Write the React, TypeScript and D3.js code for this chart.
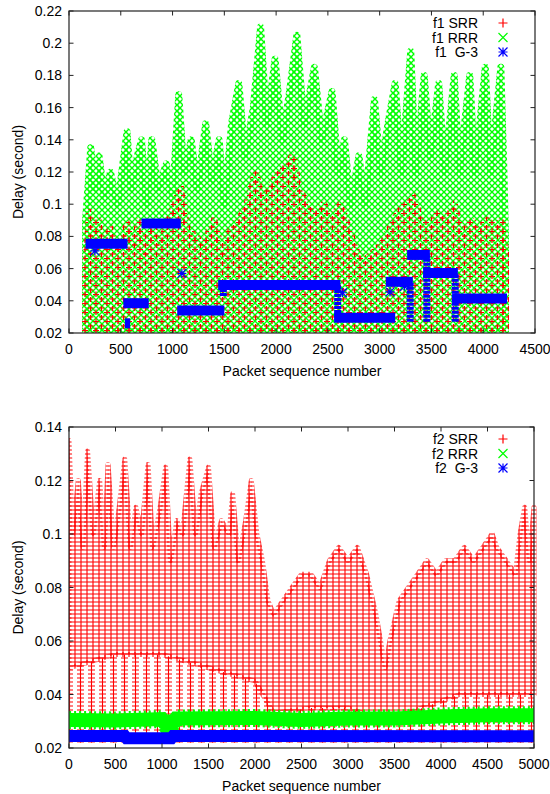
import React from 'react';
import * as d3 from 'd3';

// ---- f1 panel (top) ----
const f1XTicks = [0, 500, 1000, 1500, 2000, 2500, 3000, 3500, 4000, 4500];
const f1YTicks = [0.02, 0.04, 0.06, 0.08, 0.1, 0.12, 0.14, 0.16, 0.18, 0.2, 0.22];

// SRR: upper envelope of the red cloud
const f1SrrX = [160, 200, 240, 280, 330, 400, 470, 560, 620, 680, 740, 800, 880, 960, 1020, 1080, 1140, 1220, 1300, 1400, 1480, 1560, 1640, 1720, 1800, 1860, 1940, 2020, 2100, 2160, 2220, 2300, 2380, 2460, 2540, 2620, 2700, 2780, 2860, 2940, 3020, 3100, 3180, 3260, 3320, 3400, 3480, 3560, 3640, 3720, 3800, 3880, 3960, 4040, 4120, 4180, 4215];
const f1SrrTop = [0.06, 0.095, 0.08, 0.09, 0.075, 0.085, 0.07, 0.088, 0.075, 0.09, 0.07, 0.09, 0.075, 0.09, 0.1, 0.11, 0.085, 0.08, 0.075, 0.09, 0.07, 0.085, 0.09, 0.1, 0.12, 0.105, 0.11, 0.12, 0.125, 0.13, 0.11, 0.1, 0.095, 0.1, 0.09, 0.1, 0.085, 0.07, 0.065, 0.07, 0.075, 0.085, 0.095, 0.1, 0.105, 0.09, 0.085, 0.095, 0.09, 0.1, 0.08, 0.09, 0.085, 0.09, 0.085, 0.09, 0.07];
const f1SrrLowX = [160, 4215];
const f1SrrLow = [0.021, 0.021];

// RRR: upper envelope of the green cloud
const f1RrrX = [160, 210, 250, 290, 340, 400, 470, 520, 560, 600, 660, 700, 750, 800, 860, 940, 1000, 1060, 1110, 1180, 1240, 1320, 1380, 1450, 1500, 1570, 1640, 1700, 1780, 1850, 1910, 1990, 2060, 2130, 2200, 2270, 2370, 2440, 2540, 2600, 2660, 2720, 2800, 2860, 2950, 3010, 3080, 3150, 3210, 3300, 3350, 3430, 3490, 3570, 3630, 3720, 3770, 3870, 3920, 4020, 4070, 4170, 4200, 4215];
const f1RrrTop = [0.09, 0.135, 0.11, 0.13, 0.105, 0.12, 0.1, 0.125, 0.145, 0.11, 0.13, 0.14, 0.1, 0.14, 0.11, 0.125, 0.105, 0.168, 0.12, 0.14, 0.11, 0.15, 0.115, 0.14, 0.1, 0.15, 0.175, 0.13, 0.16, 0.21, 0.15, 0.19, 0.14, 0.17, 0.205, 0.15, 0.185, 0.14, 0.17, 0.12, 0.14, 0.1, 0.13, 0.1, 0.165, 0.12, 0.15, 0.175, 0.12, 0.195, 0.12, 0.18, 0.13, 0.175, 0.12, 0.18, 0.12, 0.18, 0.12, 0.185, 0.12, 0.185, 0.12, 0.08];
const f1RrrLowX = [160, 4215];
const f1RrrLow = [0.021, 0.021];

// G-3: constant-delay levels
const f1G3Start = [160, 540, 525, 700, 1045, 1440, 2560, 3060, 3265, 3420, 3700];
const f1G3End = [565, 590, 770, 1080, 1500, 2620, 3150, 3320, 3485, 3755, 4230];
const f1G3Level = [0.0755, 0.026, 0.0385, 0.088, 0.034, 0.0498, 0.0295, 0.0518, 0.0685, 0.0573, 0.0415];
const f1G3JumpX = [1490, 2595, 3295, 3455, 3730];
const f1G3JumpFrom = [0.043, 0.03, 0.027, 0.027, 0.027];
const f1G3JumpTo = [0.05, 0.05, 0.052, 0.068, 0.057];
const f1G3LoneX = [250, 1090, 3100, 3240, 2640];
const f1G3LoneY = [0.071, 0.057, 0.0455, 0.049, 0.045];

// ---- f2 panel (bottom) ----
const f2XTicks = [0, 500, 1000, 1500, 2000, 2500, 3000, 3500, 4000, 4500, 5000];
const f2YTicks = [0.02, 0.04, 0.06, 0.08, 0.1, 0.12, 0.14];

const f2SrrX = [0, 40, 100, 150, 200, 260, 330, 380, 420, 480, 540, 600, 660, 720, 780, 850, 900, 980, 1040, 1090, 1160, 1220, 1300, 1360, 1420, 1500, 1560, 1640, 1720, 1760, 1820, 1900, 1960, 2020, 2080, 2140, 2200, 2300, 2400, 2500, 2600, 2700, 2800, 2900, 3000, 3100, 3200, 3300, 3400, 3450, 3550, 3650, 3750, 3850, 3950, 4050, 4150, 4250, 4350, 4450, 4550, 4600, 4700, 4800, 4850, 4900, 4950, 5000];
const f2SrrTop = [0.135, 0.1, 0.12, 0.095, 0.131, 0.1, 0.12, 0.095, 0.126, 0.095, 0.11, 0.128, 0.095, 0.11, 0.1, 0.126, 0.095, 0.11, 0.125, 0.09, 0.105, 0.1, 0.128, 0.1, 0.115, 0.125, 0.095, 0.105, 0.1, 0.115, 0.09, 0.105, 0.12, 0.1, 0.09, 0.075, 0.07, 0.075, 0.08, 0.085, 0.085, 0.08, 0.09, 0.095, 0.09, 0.095, 0.085, 0.07, 0.05, 0.06, 0.075, 0.08, 0.085, 0.09, 0.085, 0.09, 0.09, 0.095, 0.09, 0.095, 0.1, 0.095, 0.09, 0.085, 0.1, 0.11, 0.09, 0.11];
const f2SrrLowX = [0, 500, 1000, 1500, 2000, 2200, 2600, 3000, 3400, 3800, 4200, 4600, 5000];
const f2SrrLow = [0.05, 0.055, 0.055, 0.05, 0.045, 0.033, 0.035, 0.035, 0.03, 0.035, 0.04, 0.04, 0.04];

const f2RrrX = [0, 500, 1000, 1050, 1100, 1150, 2000, 2500, 3000, 3500, 4000, 4500, 5000];
const f2RrrY = [0.0305, 0.0303, 0.0308, 0.0285, 0.0288, 0.031, 0.0312, 0.0305, 0.031, 0.031, 0.0318, 0.0322, 0.0322];
const f2G3X = [0, 600, 620, 1100, 1120, 5000];
const f2G3Y = [0.0245, 0.0245, 0.0236, 0.0236, 0.0245, 0.0244];

const RED = '#ff0000';
const GREEN = '#00ff00';
const BLUE = '#0000ff';
const FONT = 'Liberation Sans, Arial, Helvetica, sans-serif';

type Lin = d3.ScaleLinear<number, number>;

const bandPath = (tx: number[], ty: number[], lx: number[], ly: number[], x: Lin, y: Lin) => {
  const pts: [number, number][] = tx.map((v, i) => [x(v), y(ty[i])] as [number, number])
    .concat(lx.map((v, i) => [x(v), y(ly[i])] as [number, number]).reverse());
  return (d3.line()(pts) || '') + 'Z';
};

const Marker = ({ kind, cx, cy, color }: { kind: string; cx: number; cy: number; color: string }) => {
  const s = 4.5;
  const plus = `M${cx - s},${cy}H${cx + s}M${cx},${cy - s}V${cy + s}`;
  const cross = `M${cx - s},${cy - s}L${cx + s},${cy + s}M${cx + s},${cy - s}L${cx - s},${cy + s}`;
  const d = kind === 'plus' ? plus : kind === 'cross' ? cross : plus + cross;
  return <path d={d} stroke={color} strokeWidth={1.2} fill="none" />;
};

const Frame = ({ x, y, xTicks, yTicks, legend, id }: { x: Lin; y: Lin; xTicks: number[]; yTicks: number[]; legend: [string, string, string][]; id: string }) => {
  const [x0, x1] = x.range();
  const [y0, y1] = y.range();
  const cy = (y0 + y1) / 2;
  return (
    <g fontFamily={FONT} fontSize={14} fill="#000">
      <rect x={x0} y={y1} width={x1 - x0} height={y0 - y1} fill="none" stroke="#222" strokeWidth={1.2} />
      {xTicks.map((t) => (
        <g key={'x' + t}>
          <line x1={x(t)} x2={x(t)} y1={y0} y2={y0 - 4.5} stroke="#222" />
          <line x1={x(t)} x2={x(t)} y1={y1} y2={y1 + 4.5} stroke="#222" />
          <text x={x(t)} y={y0 + 21} textAnchor="middle">{t}</text>
        </g>
      ))}
      {yTicks.map((t) => (
        <g key={'y' + t}>
          <line x1={x0} x2={x0 + 4.5} y1={y(t)} y2={y(t)} stroke="#222" />
          <line x1={x1} x2={x1 - 4.5} y1={y(t)} y2={y(t)} stroke="#222" />
          <text x={x0 - 7} y={y(t) + 5} textAnchor="end">{String(+t.toFixed(2))}</text>
        </g>
      ))}
      <text x={(x0 + x1) / 2} y={y0 + 43} textAnchor="middle">Packet sequence number</text>
      <text transform={`translate(23,${cy}) rotate(-90)`} textAnchor="middle">Delay (second)</text>
      {legend.map(([label, kind, color], i) => (
        <g key={id + label}>
          <text x={478} y={y1 + 17 + i * 14.5} textAnchor="end" style={{ whiteSpace: 'pre' }}>{label}</text>
          <Marker kind={kind} cx={503} cy={y1 + 12 + i * 14.5} color={color} />
        </g>
      ))}
    </g>
  );
};

const TopPanel = () => {
  const x = d3.scaleLinear().domain([0, 4500]).range([69, 535]);
  const y = d3.scaleLinear().domain([0.02, 0.22]).range([333, 11]);
  return (
    <g>
      <g clipPath="url(#clipTop)">
        <path d={bandPath(f1RrrX, f1RrrTop, f1RrrLowX, f1RrrLow, x, y)} fill="url(#greenTop)" stroke="url(#greenTop)" strokeWidth={7} strokeLinejoin="round" />
        <path d={bandPath(f1SrrX, f1SrrTop, f1SrrLowX, f1SrrLow, x, y)} fill="url(#redTop)" stroke="url(#redTop)" strokeWidth={7} strokeLinejoin="round" />
        {f1G3Level.map((v, i) => (
          <line key={'lv' + i} x1={x(f1G3Start[i])} x2={x(f1G3End[i])} y1={y(v)} y2={y(v)} stroke={BLUE} strokeWidth={10} />
        ))}
        {f1G3JumpX.map((v, i) => (
          <line key={'jp' + i} x1={x(v)} x2={x(v)} y1={y(f1G3JumpFrom[i])} y2={y(f1G3JumpTo[i])} stroke={BLUE} strokeWidth={7} strokeDasharray="3 1" />
        ))}
        {f1G3LoneX.map((v, i) => (
          <Marker key={'lo' + i} kind="star" cx={x(v)} cy={y(f1G3LoneY[i])} color={BLUE} />
        ))}
      </g>
      <Frame x={x} y={y} xTicks={f1XTicks} yTicks={f1YTicks} id="f1"
        legend={[['f1 SRR', 'plus', RED], ['f1 RRR', 'cross', GREEN], ['f1  G-3', 'star', BLUE]]} />
    </g>
  );
};

const BottomPanel = () => {
  const x = d3.scaleLinear().domain([0, 5000]).range([69, 534]);
  const y = d3.scaleLinear().domain([0.02, 0.14]).range([748, 427]);
  const line = d3.line<number>().x((_, i) => x(f2RrrX[i])).y((d) => y(d));
  const lineB = d3.line<number>().x((_, i) => x(f2G3X[i])).y((d) => y(d));
  const sparseLowX = [0, 5000];
  const sparseLow = [0.022, 0.022];
  return (
    <g>
      <g clipPath="url(#clipBottom)">
        <path d={bandPath(f2SrrLowX, f2SrrLow, sparseLowX, sparseLow, x, y)} fill="url(#redSparse)" />
        <path d={bandPath(f2SrrX, f2SrrTop, f2SrrLowX, f2SrrLow, x, y)} fill="url(#redGrid)" stroke="url(#redGrid)" strokeWidth={5} strokeLinejoin="round" />
        <path d={line(f2RrrY) || ''} stroke={GREEN} strokeWidth={14} fill="none" />
        <path d={line(f2RrrY) || ''} stroke={GREEN} strokeWidth={18} strokeDasharray="2 3" fill="none" />
        <path d={lineB(f2G3Y) || ''} stroke={BLUE} strokeWidth={12} fill="none" />
      </g>
      <Frame x={x} y={y} xTicks={f2XTicks} yTicks={f2YTicks} id="f2"
        legend={[['f2 SRR', 'plus', RED], ['f2 RRR', 'cross', GREEN], ['f2  G-3', 'star', BLUE]]} />
    </g>
  );
};

export default function App() {
  return (
    <svg width={550} height={794} style={{ position: 'absolute', left: 0, top: 0, background: '#fff' }}>
      <defs>
        <clipPath id="clipTop"><rect x={69} y={11} width={470} height={322} /></clipPath>
        <clipPath id="clipBottom"><rect x={69} y={427} width={471} height={321} /></clipPath>
        <pattern id="redTop" width={11} height={9} patternUnits="userSpaceOnUse">
          <path d="M-0.5,2H5.5M2.5,-1V5M5,6.5H11M8,3.5V9.5" stroke={RED} strokeWidth={1.2} fill="none" />
        </pattern>
        <pattern id="greenTop" width={6} height={6} patternUnits="userSpaceOnUse">
          <path d="M0,0L6,6M6,0L0,6" stroke={GREEN} strokeWidth={1.4} fill="none" />
        </pattern>
        <pattern id="redGrid" width={6} height={4} patternUnits="userSpaceOnUse">
          <path d="M0,2H6M3,0V4" stroke={RED} strokeWidth={1.1} fill="none" />
        </pattern>
        <pattern id="redSparse" width={11} height={4} patternUnits="userSpaceOnUse">
          <path d="M0,2H7M3.5,0V4" stroke={RED} strokeWidth={1.1} fill="none" />
        </pattern>
      </defs>
      <TopPanel />
      <BottomPanel />
    </svg>
  );
}
